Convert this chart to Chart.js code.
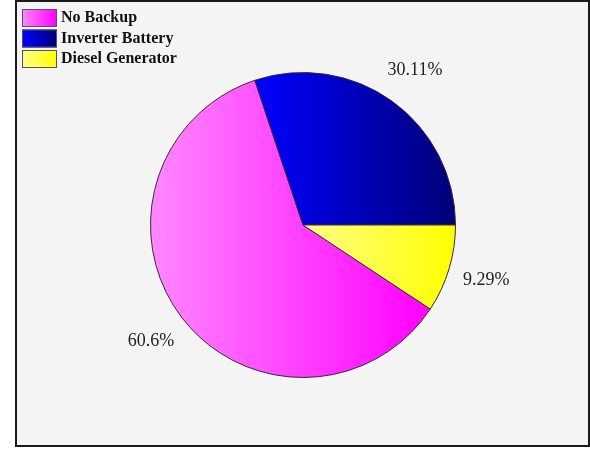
<!DOCTYPE html>
<html>
<head>
<meta charset="utf-8">
<script src="https://cdn.jsdelivr.net/npm/chart.js@4.4.1/dist/chart.umd.min.js"></script>
<style>
  html, body { margin: 0; padding: 0; background: #ffffff; }
  #wrap { width: 590px; height: 450px; position: relative; }
</style>
</head>
<body>
<div id="wrap"><canvas id="backup-pie"></canvas></div>
<script>
'use strict';

// Share of households by power backup type
const backupLabels = ['No Backup', 'Inverter Battery', 'Diesel Generator'];
const backupShares = [60.6, 30.11, 9.29];

// Fill gradients run left (light) to right (deep) across each slice
const gradFrom = ['#ff88ff', '#0000ff', '#ffff88'];
const gradTo   = ['#ff00ff', '#000078', '#ffff00'];

// Slices start at the bottom edge of the last slice, so blue ends at 3 o'clock
const lastShare = backupShares[backupShares.length - 1];
const startRotation = 90 + lastShare * 3.6;

const total = backupShares.reduce((a, b) => a + b, 0);

function sliceGradient(context) {
  const chart = context.chart;
  const ca = chart.chartArea;
  const i = context.dataIndex;
  if (!ca) return gradTo[i];
  const cx = (ca.left + ca.right) / 2;
  const r = (Math.min(ca.right - ca.left, ca.bottom - ca.top) - 1) / 2;
  let before = 0;
  for (let k = 0; k < i; k++) before += backupShares[k];
  const a0 = startRotation * Math.PI / 180 - Math.PI / 2 + (before / total) * Math.PI * 2;
  const a1 = a0 + (backupShares[i] / total) * Math.PI * 2;
  let minX = cx, maxX = cx;
  for (let s = 0; s <= 60; s++) {
    const a = a0 + (a1 - a0) * s / 60;
    const x = cx + Math.cos(a) * r;
    minX = Math.min(minX, x);
    maxX = Math.max(maxX, x);
  }
  const g = chart.ctx.createLinearGradient(minX, 0, maxX, 0);
  g.addColorStop(0, gradFrom[i]);
  g.addColorStop(1, gradTo[i]);
  return g;
}

// Grey plot panel with a dark frame
const framePlugin = {
  id: 'frame',
  beforeDraw(chart) {
    const c = chart.ctx;
    c.save();
    c.fillStyle = '#ffffff';
    c.fillRect(0, 0, chart.width, chart.height);
    c.fillStyle = '#f4f4f4';
    c.fillRect(16, 1, 573, 445);
    c.strokeStyle = '#1a1a1a';
    c.lineWidth = 2;
    c.strokeRect(16, 1, 573, 445);
    c.restore();
  }
};

// Percent labels outside each slice
const outsideLabels = {
  id: 'outsideLabels',
  afterDatasetsDraw(chart) {
    const c = chart.ctx;
    const meta = chart.getDatasetMeta(0);
    c.save();
    c.font = '18px "Liberation Serif", "Times New Roman", serif';
    c.fillStyle = '#222222';
    c.textAlign = 'center';
    c.textBaseline = 'middle';
    meta.data.forEach((arc, i) => {
      const mid = (arc.startAngle + arc.endAngle) / 2;
      const rr = arc.outerRadius * 1.255;
      c.fillText(backupShares[i] + '%', arc.x + Math.cos(mid) * rr, arc.y + Math.sin(mid) * rr);
    });
    c.restore();
  }
};

// Legend block in the top-left corner
const cornerLegend = {
  id: 'cornerLegend',
  afterDraw(chart) {
    const c = chart.ctx;
    c.save();
    c.font = 'bold 16px "Liberation Serif", "Times New Roman", serif';
    c.textBaseline = 'middle';
    backupLabels.forEach((label, i) => {
      const top = 9 + i * 20.5;
      const g = c.createLinearGradient(22, 0, 57, 0);
      g.addColorStop(0, gradFrom[i]);
      g.addColorStop(1, gradTo[i]);
      c.fillStyle = g;
      c.fillRect(22, top, 35, 18);
      c.strokeStyle = '#555555';
      c.lineWidth = 1;
      c.strokeRect(22.5, top + 0.5, 34, 17);
      c.fillStyle = '#111111';
      c.fillText(label, 61, top + 9);
    });
    c.restore();
  }
};

new Chart(document.getElementById('backup-pie'), {
  type: 'pie',
  data: {
    labels: backupLabels,
    datasets: [{
      data: backupShares,
      backgroundColor: sliceGradient,
      borderColor: '#3a2a3a',
      borderWidth: 1,
    }],
  },
  options: {
    responsive: true,
    maintainAspectRatio: false,
    animation: false,
    rotation: startRotation,
    layout: { padding: { left: 103, right: 87, top: 72, bottom: 72 } },
    plugins: {
      legend: { display: false },
      tooltip: { enabled: false },
    },
  },
  plugins: [framePlugin, outsideLabels, cornerLegend],
});
</script>
</body>
</html>
